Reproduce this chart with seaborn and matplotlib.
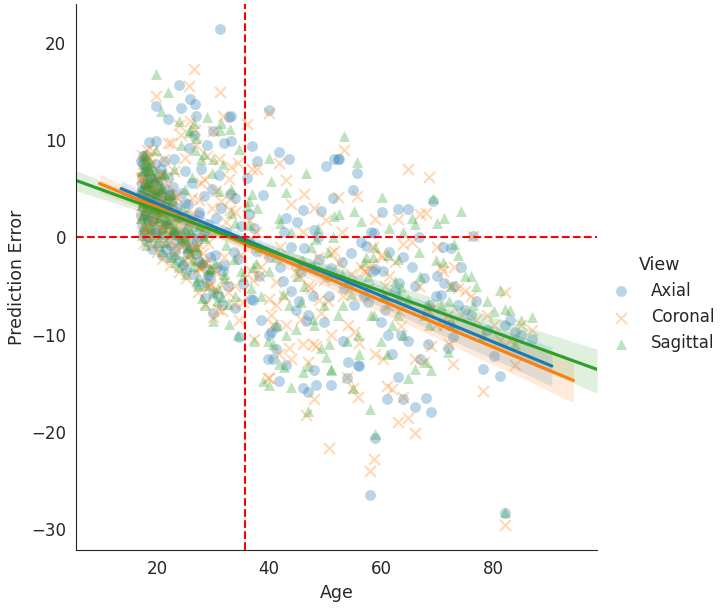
import matplotlib
matplotlib.use("Agg")
import matplotlib.pyplot as plt
import pandas as pd
import seaborn as sns

# ages of the subjects (same subjects in all three views)
age = [
    17.1, 17.2, 17.3, 17.4, 17.5, 17.6, 17.7, 17.8, 17.9, 18.0,
    18.1, 18.2, 18.3, 18.4, 18.5, 18.6, 18.8, 19.0, 19.1, 19.3,
    19.5, 19.6, 19.8, 19.8, 20.0, 20.2, 20.4, 20.7, 20.9, 21.0,
    21.3, 21.5, 21.7, 22.0, 22.0, 22.3, 22.5, 22.8, 23.0, 23.2,
    23.5, 23.9, 24.0, 24.3, 24.5, 24.8, 25.0, 25.2, 25.5, 25.7,
    26.0, 26.0, 26.3, 26.6, 26.8, 27.0, 27.0, 27.3, 27.5, 27.8,
    28.0, 28.4, 28.6, 29.0, 29.2, 29.5, 29.8, 30.0, 30.0, 30.3,
    30.6, 30.9, 31.0, 31.3, 31.4, 31.8, 32.0, 32.0, 32.4, 32.7,
    32.9, 33.0, 33.2, 33.2, 33.8, 34.0, 34.0, 34.5, 34.6, 35.0,
    35.3, 36.0, 36.4, 36.4, 36.8,
    17.2, 17.4, 17.6, 17.9, 18.1, 18.3, 18.5, 18.7, 18.9, 19.2,
    19.4, 19.7, 19.9, 20.1, 20.3, 20.6, 20.8, 21.1, 21.4, 21.6,
    21.9, 22.2, 22.6, 22.9, 23.3, 23.7, 24.1, 24.6, 25.1, 25.6,
    26.1, 26.5, 27.1, 27.6, 28.2, 28.8, 29.4, 30.1, 30.8, 31.6,
    17.3, 17.5, 17.7, 17.9, 18.0, 18.2, 18.4, 18.6, 18.8, 19.0,
    19.3, 19.5, 19.8, 20.0, 20.3, 20.5, 20.8, 21.0, 21.3, 21.6,
    22.0, 22.4, 22.7, 23.1, 23.5, 24.0, 24.4, 25.0, 25.4, 26.0,
    26.4, 27.0, 27.5, 28.0, 28.6, 29.2,
    37.0, 37.1, 37.3, 37.7, 37.9, 38.2, 38.6, 39.0, 39.8, 40.0,
    40.0, 40.0, 40.4, 40.7, 41.3, 41.3, 41.8, 41.8, 42.5, 42.7,
    43.0, 43.0, 43.6, 44.0, 44.0, 44.8, 45.0, 45.7, 46.0, 46.0,
    46.2, 46.6, 47.0, 47.0, 47.5, 47.8, 48.0, 48.0, 48.4, 49.0,
    49.3, 49.8, 50.2, 50.7, 51.0, 51.0, 51.4, 51.6, 52.3, 52.5,
    53.2, 53.4, 54.0, 54.1, 54.6, 55.0, 55.2, 55.7, 55.9, 56.0,
    57.3, 57.7, 58.0, 58.2, 58.8, 59.0, 59.0, 60.0, 60.2, 60.4,
    61.0, 61.2, 62.0, 63.0, 63.0, 63.2, 64.0, 64.0, 64.8, 64.8,
    66.0, 66.0, 67.0, 67.7, 68.0, 68.6, 69.0, 69.3, 69.8, 70.7,
    71.3, 72.0, 72.5, 72.8, 73.7, 74.3, 76.0, 76.4, 78.2, 80.2,
    81.3, 82.1, 82.1, 84.0, 87.0,
    42.0, 45.4, 48.8, 50.5, 53.0,
    56.5, 57.0, 58.5, 60.8, 61.5, 62.5, 63.6, 65.5, 66.8, 68.3,
    70.0, 71.0, 72.2, 73.0, 75.0, 77.0, 79.0, 83.0, 85.0,
]

axial = [
    4.5, 7.8, 1.5, 6.2, 3.0, 8.4, 0.8, 5.5, 2.5, 6.8,
    -0.4, 4.0, 7.2, 1.8, 5.0, 9.8, 3.2, 6.0, -1.2, 4.4,
    2.0, 7.5, 13.5, 9.9, 0.5, 5.8, 3.0, 7.0, -1.8, 4.8,
    7.8, 1.5, 2.8, 12.2, 6.2, -0.8, 3.6, 5.2, 8.1, 0.2,
    2.2, 15.7, -2.4, 13.3, 4.6, 1.0, 6.8, -3.4, 3.4, 9.2,
    14.2, -1.0, 5.6, 10.5, 13.7, 12.5, 0.8, -4.8, 2.6, 7.0,
    -2.8, 4.2, -6.2, 9.5, 1.4, -4.0, 5.0, -7.8, 10.9, -1.8,
    2.0, -6.0, 6.4, 21.4, 3.0, -3.5, 9.7, -2.8, 0.5, -5.0,
    12.4, 4.5, 9.9, 12.5, -1.5, 4.0, -7.3, -2.2, -10.2, 1.2,
    -4.8, 6.1, -0.5, 2.4, -6.3,
    2.2, 4.8, 0.4, 3.6, 5.4, 2.6, 0.0, 4.2, 1.2, 3.0,
    5.6, 0.6, 2.4, 4.0, -0.9, 2.0, 3.8, 0.0, 2.6, -1.2,
    1.4, 4.4, -2.0, 0.6, -1.4, 2.0, -0.6, -2.8, 0.4, -1.6,
    1.8, -3.8, -0.4, -2.4, 0.2, -4.6, -2.0, -5.6, -3.0, -7.0,
    5.3, 7.5, 3.5, 8.5, 2.3, 4.9, 6.7, 3.1, 6.1, 4.3,
    1.7, 5.5, 2.5, 4.7, 6.5, 2.7, 4.1, 0.9, 5.1, 2.5,
    3.9, 1.5, 4.5, 0.5, 3.1, 2.1, -0.3, 3.5, -1.1, 1.5,
    -0.1, -1.7, 2.3, -2.7, 0.5, -3.9,
    9.4, -6.4, 1.0, -1.4, 7.8, -4.0, -8.5, 4.4, -12.5, 13.1,
    -10.0, -2.0, -9.7, -12.5, -11.5, -9.2, 8.8, -14.8, -4.5, 0.5,
    -13.1, 2.0, 8.0, -5.5, -1.0, -7.5, 1.6, -3.6, -15.5, 2.8,
    -1.1, -8.6, -8.0, -15.9, -3.0, -6.0, -13.6, 0.8, -15.2, -2.2,
    2.7, -8.7, 7.3, -6.0, -15.2, -3.2, 4.0, 8.0, 8.0, 8.1,
    -10.7, -5.2, -14.5, -12.8, -1.6, 4.9, -7.0, 6.6, -13.1, -13.2,
    -0.9, -6.6, -26.5, 0.6, 0.4, -20.6, -3.3, -8.7, 2.6, -3.5,
    -16.6, -10.0, -12.0, 2.9, -14.3, -4.7, -16.6, -2.0, 2.9, -10.6,
    -17.4, -5.0, -12.5, -4.2, -16.5, -7.0, -17.9, 3.7, -6.0, -5.9,
    -4.7, -11.4, -1.1, -10.2, -7.0, -3.0, -8.0, 0.1, -13.5, -12.2,
    -14.2, -28.3, -9.0, -9.7, -10.4,
    -3.0, -6.5, 0.0, -4.0, -2.5,
    -0.5, -6.0, -3.5, -7.5, -1.5, -5.5, -10.0, -3.0, 0.0, -11.0,
    -4.0, -1.0, -9.0, -5.0, -7.5, -6.5, -9.5, -8.5, -10.0,
]

coronal = [
    3.2, 6.0, 0.5, 8.5, 2.4, 7.0, -0.6, 4.8, 3.8, 5.2,
    1.0, 6.4, 9.0, 0.2, 3.4, 8.0, 1.8, 7.5, -0.8, 8.9,
    2.8, 5.0, 14.5, 6.0, -1.5, 4.0, 4.6, 6.5, -2.2, 2.5,
    8.0, 0.8, 3.6, 9.7, 5.5, -2.8, 9.7, 1.0, 6.8, -1.0,
    4.2, 11.5, -3.6, 10.5, 2.2, -0.5, 8.2, -4.2, 1.6, 15.6,
    12.0, -2.4, 4.0, 17.3, 11.0, 9.5, -1.2, -5.6, 3.8, 5.6,
    -3.0, 6.0, -6.8, 8.4, -0.6, -5.0, 3.0, -8.2, 10.9, -3.4,
    4.8, -7.4, 8.1, 14.9, 3.7, 12.5, -2.0, -4.6, 1.6, -5.6,
    6.0, 2.8, 7.2, 4.0, -6.9, 2.6, -5.0, 7.6, -8.5, -1.8,
    -6.6, 11.6, 1.8, -0.4, -3.5,
    2.0, 6.2, 3.6, 1.0, 5.4, 4.0, 0.4, 3.0, 6.6, 2.4,
    4.6, 1.6, 0.0, 3.2, 2.0, 1.0, 6.4, -0.6, 2.8, 1.4,
    3.8, 1.8, -0.4, 3.4, -1.6, 1.2, 2.2, -0.8, 0.2, -2.0,
    1.6, -1.2, -0.6, -3.0, -1.6, -2.6, -4.8, -3.4, -5.4, -7.6,
    6.1, 3.3, 4.5, 7.7, 2.9, 3.7, 8.3, 1.1, 5.1, 5.5,
    2.7, 4.1, 4.7, 2.1, 5.7, 1.1, 3.1, 2.3, 3.5, 0.9,
    4.5, 2.7, 0.5, 1.9, 4.1, 0.1, 2.3, -0.5, 1.3, -1.7,
    2.5, -1.1, -3.1, 0.5, -2.5, -5.1,
    7.0, -4.4, -10.4, 0.5, 7.0, -4.0, -3.0, -1.5, -14.5, 12.8,
    -6.3, -14.5, -8.0, -9.0, -7.0, -4.6, 7.6, -12.0, -2.2, -6.0,
    -9.0, 5.9, -11.4, -12.5, 3.4, -3.6, -2.4, -8.4, -11.0, 0.6,
    4.5, -18.3, -5.0, -12.8, -5.2, -11.0, -16.6, 3.0, -11.2, -6.4,
    -7.8, -4.4, 1.8, -21.6, -10.0, -1.6, -4.0, -1.4, 4.1, -2.6,
    -6.0, 9.0, -14.3, -9.0, -3.8, -15.5, -9.7, 4.2, -16.4, -10.9,
    -3.6, -5.2, -24.0, -2.8, -22.8, -12.0, 1.9, -1.8, -2.0, -12.5,
    -15.3, -7.0, -15.6, 1.9, -19.0, -7.6, -16.4, -0.7, 7.0, -18.6,
    -20.1, -12.5, 2.4, -12.8, 2.5, 6.2, -11.2, -7.3, -9.0, -3.0,
    -9.0, -8.0, -5.0, -13.0, -5.2, -8.0, -6.0, 0.1, -15.8, -9.0,
    -10.5, -29.6, -5.6, -13.1, -9.5,
    -1.0, -4.0, -2.0, -6.5, 0.5,
    -3.0, -3.5, -1.0, -5.0, -4.0, -2.5, -9.1, -0.5, -5.0, -7.5,
    -1.0, -3.5, -11.0, -3.0, -5.5, -8.5, -8.0, -10.5, -9.0,
]

sagittal = [
    5.0, 2.0, 0.2, 6.8, 3.6, 7.5, 1.2, 4.2, 2.8, 8.0,
    -0.8, 5.6, 6.5, 2.2, 3.9, 7.0, 1.0, 5.4, 0.0, 3.0,
    4.6, 6.2, 16.8, 9.0, -0.5, 3.2, 2.0, 13.0, -1.4, 5.0,
    6.6, 0.4, 1.8, 14.9, 4.4, -2.0, 2.6, 3.8, 7.0, -2.5,
    1.0, 12.0, -3.0, 9.5, 3.0, 0.0, 5.0, -3.8, 2.4, 10.8,
    11.0, -1.6, 6.2, 11.8, 9.0, 10.2, -4.5, -5.0, 1.2, 8.0,
    -6.2, 8.6, -7.0, 12.4, 0.5, -3.2, 6.6, -8.6, 8.0, -2.6,
    0.8, -5.2, 4.8, 11.0, 11.7, 7.5, -4.2, -3.8, -0.8, -6.9,
    -8.9, 11.1, 5.0, 2.5, -2.2, 1.5, -6.0, -10.0, 9.1, -3.5,
    -4.0, 3.2, 3.7, 1.3, -5.2,
    4.5, 3.3, 2.3, 5.7, 4.1, 1.9, 3.1, 4.9, 3.5, 0.9,
    2.9, 4.3, 1.7, 2.7, 0.3, 5.1, 2.1, 1.1, 3.7, -0.5,
    1.5, 3.1, 0.3, 0.7, -1.7, 2.3, -0.3, -2.3, 0.9, -0.9,
    0.5, -2.9, -1.3, -4.1, 0.1, -4.9, -3.3, -5.7, -6.5, -6.1,
    4.9, 8.3, 6.9, 8.5, 5.3, 3.5, 7.3, 5.7, 7.7, 4.1,
    6.3, 6.9, 4.9, 4.3, 5.9, 3.1, 5.1, 3.5, 6.5, 3.9,
    1.9, 3.3, 4.5, 0.9, 2.7, 0.3, 2.1, -0.1, -1.1, 0.7,
    -2.3, -0.9, 1.3, -2.5, -0.1, -3.5,
    4.5, -3.0, -10.7, -2.6, 3.0, -1.0, -6.0, -14.8, -10.7, 8.2,
    -3.5, -15.2, 5.8, -11.0, -9.0, -2.0, 2.0, -13.0, -5.8, -13.3,
    -10.0, 4.7, -7.0, -15.4, 0.5, -9.4, -4.0, -6.6, -13.8, -2.4,
    -5.0, 6.6, -17.8, -13.2, -1.0, -8.4, -9.0, -3.0, -0.2, -3.4,
    -11.4, -7.0, -12.3, -11.0, -13.6, -13.5, 0.0, 2.2, -8.0, 2.4,
    -7.0, 10.4, -10.6, -4.6, -5.8, -15.5, 2.7, 7.7, -10.0, -12.0,
    -2.0, -4.0, -17.6, -8.0, -8.0, -20.2, -1.0, -10.7, 4.1, -6.0,
    -12.0, -1.8, -9.0, -2.2, -8.0, -6.0, -10.0, 0.6, -14.5, -6.3,
    -13.5, 1.4, -4.0, -8.0, -12.8, -9.0, -13.6, 4.0, -2.3, -7.0,
    2.0, -11.8, -5.0, -9.0, -1.8, 2.7, -4.0, -7.0, -10.0, -7.6,
    -5.4, -28.2, -7.4, -11.0, -8.2,
    1.5, -2.8, 1.0, -1.5, -3.8,
    1.7, -2.5, -2.0, -6.0, 1.0, -4.5, -5.1, 2.0, -1.5, -7.0,
    1.5, -2.5, -6.5, -0.7, -4.0, -5.0, -6.5, -7.5, -8.5,
]

views = ["Axial", "Coronal", "Sagittal"]
view_markers = ["o", "x", "^"]
age_split = 35.7

df = pd.concat([
    pd.DataFrame({"Age": age, "Prediction Error": err, "View": v})
    for v, err in zip(views, [axial, coronal, sagittal])
], ignore_index=True)

sns.set_style("white")
colors = sns.color_palette("tab10", 3)

fig, ax = plt.subplots(figsize=(7.22, 6.08), dpi=100)
fig.subplots_adjust(left=0.105, right=0.827, top=0.993, bottom=0.095)

for v, m, c in zip(views, view_markers, colors):
    sub = df[df["View"] == v]
    kws = {"alpha": 0.3, "s": 62}
    if m != "x":
        kws["linewidths"] = 0
    sns.regplot(data=sub, x="Age", y="Prediction Error", ax=ax, fit_reg=False,
                marker=m, color=c, label=v, scatter_kws=kws)

# each fit spans the x-range of the axes at the moment it is drawn
lo, hi = df["Age"].min(), df["Age"].max()
for v, c in zip(views, colors):
    pad = 0.05 * (hi - lo)
    lo, hi = lo - pad, hi + pad
    ax.set_xlim(lo, hi)
    sub = df[df["View"] == v]
    sns.regplot(data=sub, x="Age", y="Prediction Error", ax=ax, scatter=False,
                truncate=False, color=c, seed=0)
ax.set_xlim(lo, hi)

ax.axvline(age_split, color="red", linestyle="--", linewidth=1.5)
ax.axhline(0, color="red", linestyle="--", linewidth=1.5)

ax.set_xlabel("Age", fontsize=12.5)
ax.set_ylabel("Prediction Error", fontsize=12.5)
ax.tick_params(labelsize=12)
sns.despine(ax=ax)

handles, labels = ax.get_legend_handles_labels()
fig.legend(handles, labels, title="View", loc="center left", bbox_to_anchor=(0.816, 0.5),
           frameon=False, fontsize=12, title_fontsize=12.5)

fig.savefig("out.png", dpi=100)
